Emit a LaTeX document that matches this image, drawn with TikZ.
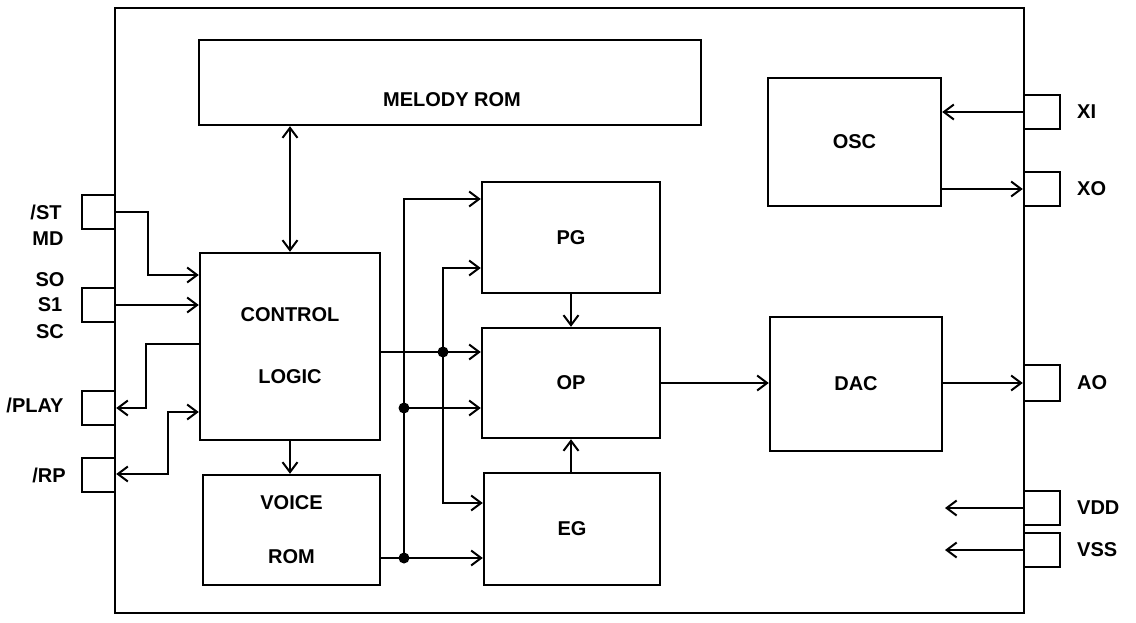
\documentclass[tikz,border=0pt]{standalone}
\usepackage{fontspec}
\setmainfont{Liberation Sans}
\usetikzlibrary{arrows.meta}
\begin{document}
\begin{tikzpicture}[x=1pt,y=-1pt,
  blk/.style={draw,line width=2.4pt,rectangle,inner sep=0pt},
  pin/.style={draw,line width=2.4pt,rectangle,inner sep=0pt,minimum width=34pt,minimum height=34pt},
  lbl/.style={font=\fontsize{20}{24}\selectfont\bfseries,inner sep=0pt},
  wire/.style={line width=2pt},
  tip/.tip={Straight Barb[length=10pt,width=15pt,line width=2pt]},
  arr/.style={wire,-tip},
  arr2/.style={wire,tip-tip},
  dot/.style={circle,fill=black,inner sep=0pt,minimum size=11pt}]
\useasboundingbox (0,0) rectangle (1136,622);
% outer package
\node[blk,minimum width=909pt,minimum height=605pt] (chip) at (569.5,310.5) {};
% blocks
\node[blk,minimum width=502pt,minimum height=85pt] (mel) at (450,82.5) {};
\node[lbl] (melt) at (452,100) {MELODY ROM};
\node[blk,minimum width=173pt,minimum height=128pt] (osc) at (854.5,142) {};
\node[lbl] (osct) at (osc.center) {OSC};
\node[blk,minimum width=180pt,minimum height=187pt] (ctl) at (290,346.5) {};
\node[lbl] (ctlt1) at (290,315) {CONTROL};
\node[lbl] (ctlt2) at (290,377) {LOGIC};
\node[blk,minimum width=178pt,minimum height=111pt] (pg) at (571,237.5) {};
\node[lbl] (pgt) at (pg.center) {PG};
\node[blk,minimum width=178pt,minimum height=110pt] (op) at (571,383) {};
\node[lbl] (opt) at (op.center) {OP};
\node[blk,minimum width=176pt,minimum height=112pt] (eg) at (572,529) {};
\node[lbl] (egt) at (eg.center) {EG};
\node[blk,minimum width=172pt,minimum height=134pt] (dac) at (856,384) {};
\node[lbl] (dact) at (dac.center) {DAC};
\node[blk,minimum width=177pt,minimum height=110pt] (voice) at (291.5,530) {};
\node[lbl] (voicet1) at (291.5,503) {VOICE};
\node[lbl] (voicet2) at (291.5,557) {ROM};
% left pins
\node[pin,minimum width=33pt] (pST) at (98.5,212) {};
\node[pin,minimum width=33pt] (pSO) at (98.5,305) {};
\node[pin,minimum width=33pt] (pPLAY) at (98.5,408) {};
\node[pin,minimum width=33pt] (pRP) at (98.5,475) {};
% right pins
\node[pin,minimum width=36pt] (pXI) at (1042,112) {};
\node[pin,minimum width=36pt] (pXO) at (1042,189) {};
\node[pin,minimum width=36pt,minimum height=36pt] (pAO) at (1042,383) {};
\node[pin,minimum width=36pt] (pVDD) at (1042,508) {};
\node[pin,minimum width=36pt] (pVSS) at (1042,550) {};
% pin labels
\node[lbl] (lST) at (46,212) {/ST};
\node[lbl] (lMD) at (48,239) {MD};
\node[lbl] (lS0) at (50,280) {SO};
\node[lbl] (lS1) at (50,305) {S1};
\node[lbl] (lSC) at (50,332) {SC};
\node[lbl] (lPLAY) at (35,405) {/PLAY};
\node[lbl] (lRP) at (49,475) {/RP};
\node[lbl,anchor=west] (lXI) at (1077,112) {XI};
\node[lbl,anchor=west] (lXO) at (1077,189) {XO};
\node[lbl,anchor=west] (lAO) at (1077,383) {AO};
\node[lbl,anchor=west] (lVDD) at (1077,508) {VDD};
\node[lbl,anchor=west] (lVSS) at (1077,550) {VSS};
% free ends
\coordinate (vddend) at (945,508);
\coordinate (vssend) at (945,550);
% junction dots
\node[dot] (j1) at (443,352) {};
\node[dot] (j2) at (404,408) {};
\node[dot] (j3) at (404,558) {};
% left connectors
\draw[arr] (pST.east) -| (148,275) -- (ctl.west |- 0,275);
\draw[arr] (pSO.east) -- (ctl.west |- pSO.east);
\draw[arr] (ctl.west |- 0,344) -| (146,408) -- (pPLAY.east |- 0,408);
\draw[arr2] (ctl.west |- 0,412) -| (168,474) -- (pRP.east |- 0,474);
% vertical connectors
\draw[arr2] (mel.south -| ctl.north) -- (ctl.north);
\draw[arr] (ctl.south) -- (voice.north -| ctl.south);
\draw[arr] (pg.south) -- (op.north);
\draw[arr] (eg.north -| op.south) -- (op.south);
% horizontal
\draw[arr] (op.east) -- (dac.west |- op.east);
\draw[arr] (dac.east |- pAO.west) -- (pAO.west);
\draw[arr] (pXI.west) -- (osc.east |- pXI.west);
\draw[arr] (osc.east |- pXO.west) -- (pXO.west);
\draw[arr] (pVDD.west) -- (vddend);
\draw[arr] (pVSS.west) -- (vssend);
% bus network
\draw[arr] (ctl.east |- j1) -- (op.west |- j1);
\draw[arr2] (pg.west |- 0,268) -| (j1.center) |- (eg.west |- 0,503);
\draw[arr] (j3.center) |- (pg.west |- 0,199);
\draw[arr] (j2.center) -- (op.west |- j2);
\draw[arr] (voice.east |- j3) -- (eg.west |- j3);
\end{tikzpicture}
\end{document}
